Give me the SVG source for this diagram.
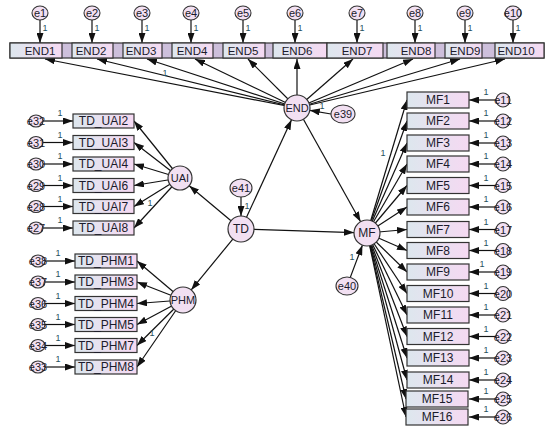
<svg xmlns="http://www.w3.org/2000/svg" width="550" height="433" viewBox="0 0 550 433">
<style>
.box{fill:url(#bg);stroke:#333;stroke-width:1.2}
.lv{fill:#f2e0f2;stroke:#333;stroke-width:1.2}
.er{fill:#f2e0f2;stroke:#333;stroke-width:1.1}
.t{font-family:"Liberation Sans",Arial,sans-serif;font-size:12px;fill:#1b1b2b;text-anchor:middle}
.te{font-family:"Liberation Sans",Arial,sans-serif;font-size:11.5px;fill:#1b1b2b;text-anchor:middle}
.ts{font-family:"Liberation Sans",Arial,sans-serif;font-size:11px;fill:#1b1b2b;text-anchor:middle}
.one{font-family:"Liberation Sans",Arial,sans-serif;font-size:9px;fill:#1f4f5f;text-anchor:middle}
#connectors line{stroke:#111;stroke-width:1.2;marker-end:url(#ah)}
</style>
<defs>
<linearGradient id="bg" x1="0" y1="0" x2="1" y2="0">
<stop offset="0" stop-color="#dde7ee"/>
<stop offset="1" stop-color="#f5d9f2"/>
</linearGradient>
<marker id="ah" markerWidth="10" markerHeight="7" refX="10" refY="3.5" orient="auto" markerUnits="userSpaceOnUse">
<path d="M0,0 L10,3.5 L0,7 z" fill="#111"/>
</marker>
</defs>
<rect width="550" height="433" fill="#fff"/>

<g id="connectors">
<!-- top error arrows -->
<line x1="40" y1="20" x2="40" y2="43"/>
<line x1="92" y1="20" x2="92" y2="43"/>
<line x1="142" y1="20" x2="142" y2="43"/>
<line x1="191" y1="20" x2="191" y2="43"/>
<line x1="243" y1="20" x2="243" y2="43"/>
<line x1="295" y1="20" x2="295" y2="43"/>
<line x1="357" y1="20" x2="357" y2="43"/>
<line x1="415" y1="20" x2="415" y2="43"/>
<line x1="465" y1="20" x2="465" y2="43"/>
<line x1="513" y1="20" x2="513" y2="43"/>
<!-- END to indicators -->
<line x1="297" y1="108" x2="45" y2="59"/>
<line x1="297" y1="108" x2="97" y2="59"/>
<line x1="297" y1="108" x2="147" y2="59"/>
<line x1="297" y1="108" x2="195" y2="59"/>
<line x1="297" y1="108" x2="248" y2="59"/>
<line x1="297" y1="108" x2="297" y2="59"/>
<line x1="297" y1="108" x2="353" y2="59"/>
<line x1="297" y1="108" x2="413" y2="59"/>
<line x1="297" y1="108" x2="460" y2="59"/>
<line x1="297" y1="108" x2="505" y2="59"/>
<!-- structural -->
<line x1="331" y1="114" x2="309.8" y2="110.3"/>
<line x1="241" y1="197" x2="241" y2="216"/>
<line x1="246.5" y1="217.2" x2="291.5" y2="119.8"/>
<line x1="303.4" y1="119.3" x2="360.6" y2="221.7"/>
<line x1="254" y1="229.4" x2="354" y2="232.6"/>
<line x1="350.4" y1="277.1" x2="362.4" y2="245.2"/>
<line x1="231" y1="220.7" x2="189.2" y2="185.7"/>
<line x1="232.8" y1="239.1" x2="191.2" y2="289.9"/>
<!-- UAI -->
<line x1="180" y1="178" x2="134" y2="121"/>
<line x1="180" y1="178" x2="134" y2="142.5"/>
<line x1="180" y1="178" x2="134" y2="164"/>
<line x1="180" y1="178" x2="134" y2="185.5"/>
<line x1="180" y1="178" x2="134" y2="206.5"/>
<line x1="180" y1="178" x2="134" y2="228"/>
<line x1="43" y1="121" x2="73" y2="121"/>
<line x1="43" y1="142.5" x2="73" y2="142.5"/>
<line x1="43" y1="164" x2="73" y2="164"/>
<line x1="43" y1="185.5" x2="73" y2="185.5"/>
<line x1="43" y1="206.5" x2="73" y2="206.5"/>
<line x1="43" y1="228" x2="73" y2="228"/>
<!-- PHM -->
<line x1="183" y1="300" x2="137" y2="261"/>
<line x1="183" y1="300" x2="137" y2="282"/>
<line x1="183" y1="300" x2="137" y2="303.5"/>
<line x1="183" y1="300" x2="137" y2="324.5"/>
<line x1="183" y1="300" x2="137" y2="345.5"/>
<line x1="183" y1="300" x2="137" y2="367"/>
<line x1="45" y1="261" x2="75" y2="261"/>
<line x1="45" y1="282" x2="75" y2="282"/>
<line x1="45" y1="303.5" x2="75" y2="303.5"/>
<line x1="45" y1="324.5" x2="75" y2="324.5"/>
<line x1="45" y1="345.5" x2="75" y2="345.5"/>
<line x1="45" y1="367" x2="75" y2="367"/>
<!-- MF -->
<line x1="367" y1="233" x2="407" y2="100"/>
<line x1="367" y1="233" x2="407" y2="121"/>
<line x1="367" y1="233" x2="407" y2="143"/>
<line x1="367" y1="233" x2="407" y2="164"/>
<line x1="367" y1="233" x2="407" y2="185.5"/>
<line x1="367" y1="233" x2="407" y2="207"/>
<line x1="367" y1="233" x2="407" y2="229.5"/>
<line x1="367" y1="233" x2="407" y2="250.5"/>
<line x1="367" y1="233" x2="407" y2="272"/>
<line x1="367" y1="233" x2="407" y2="293.5"/>
<line x1="367" y1="233" x2="407" y2="315"/>
<line x1="367" y1="233" x2="407" y2="336.5"/>
<line x1="367" y1="233" x2="407" y2="358"/>
<line x1="367" y1="233" x2="407" y2="380"/>
<line x1="367" y1="233" x2="406" y2="399"/>
<line x1="367" y1="233" x2="406" y2="417"/>
<line x1="496" y1="100" x2="469" y2="100"/>
<line x1="496" y1="121" x2="469" y2="121"/>
<line x1="496" y1="143" x2="469" y2="143"/>
<line x1="496" y1="164" x2="469" y2="164"/>
<line x1="496" y1="185.5" x2="469" y2="185.5"/>
<line x1="496" y1="207" x2="469" y2="207"/>
<line x1="496" y1="229.5" x2="469" y2="229.5"/>
<line x1="496" y1="250.5" x2="469" y2="250.5"/>
<line x1="496" y1="272" x2="469" y2="272"/>
<line x1="496" y1="293.5" x2="469" y2="293.5"/>
<line x1="496" y1="315" x2="469" y2="315"/>
<line x1="496" y1="336.5" x2="469" y2="336.5"/>
<line x1="496" y1="358" x2="469" y2="358"/>
<line x1="496" y1="380" x2="469" y2="380"/>
<line x1="496" y1="399" x2="469" y2="399"/>
<line x1="496" y1="417" x2="469" y2="417"/>
</g>

<g id="weights">
<text class="one" x="45" y="31">1</text>
<text class="one" x="97" y="31">1</text>
<text class="one" x="147" y="31">1</text>
<text class="one" x="196" y="31">1</text>
<text class="one" x="248" y="31">1</text>
<text class="one" x="300" y="31">1</text>
<text class="one" x="362" y="31">1</text>
<text class="one" x="420" y="31">1</text>
<text class="one" x="470" y="31">1</text>
<text class="one" x="518" y="31">1</text>
<text class="one" x="165" y="76">1</text>
<text class="one" x="322" y="109">1</text>
<text class="one" x="247" y="209">1</text>
<text class="one" x="352" y="260">1</text>
<text class="one" x="383" y="156">1</text>
<text class="one" x="150" y="206">1</text>
<text class="one" x="152" y="336">1</text>
<text class="one" x="60" y="116">1</text>
<text class="one" x="60" y="137.5">1</text>
<text class="one" x="60" y="159">1</text>
<text class="one" x="60" y="180.5">1</text>
<text class="one" x="60" y="201.5">1</text>
<text class="one" x="60" y="223">1</text>
<text class="one" x="58" y="256">1</text>
<text class="one" x="58" y="277">1</text>
<text class="one" x="58" y="298.5">1</text>
<text class="one" x="58" y="319.5">1</text>
<text class="one" x="58" y="340.5">1</text>
<text class="one" x="58" y="362">1</text>
<text class="one" x="486" y="95">1</text>
<text class="one" x="486" y="116">1</text>
<text class="one" x="486" y="138">1</text>
<text class="one" x="486" y="159">1</text>
<text class="one" x="486" y="180.5">1</text>
<text class="one" x="486" y="202">1</text>
<text class="one" x="486" y="224.5">1</text>
<text class="one" x="486" y="245.5">1</text>
<text class="one" x="482" y="267">1</text>
<text class="one" x="486" y="288.5">1</text>
<text class="one" x="486" y="310">1</text>
<text class="one" x="486" y="331.5">1</text>
<text class="one" x="486" y="353">1</text>
<text class="one" x="486" y="375">1</text>
<text class="one" x="486" y="394">1</text>
<text class="one" x="486" y="412">1</text>
</g>

<!-- top indicator row -->
<rect x="10" y="43" width="534" height="15" fill="#cdbfdb" stroke="#333" stroke-width="1.2"/>
<g id="END1"><rect class="box" x="10" y="43" width="52" height="15"/><text class="te" x="40" y="55">END1</text></g>
<g id="END2"><rect class="box" x="72" y="43" width="41" height="15"/><text class="te" x="91" y="55">END2</text></g>
<g id="END3"><rect class="box" x="123" y="43" width="39" height="15"/><text class="te" x="141" y="55">END3</text></g>
<g id="END4"><rect class="box" x="172" y="43" width="41" height="15"/><text class="te" x="192" y="55">END4</text></g>
<g id="END5"><rect class="box" x="223" y="43" width="42" height="15"/><text class="te" x="243" y="55">END5</text></g>
<g id="END6"><rect class="box" x="273" y="43" width="54" height="15"/><text class="te" x="297" y="55">END6</text></g>
<g id="END7"><rect class="box" x="327" y="43" width="56" height="15"/><text class="te" x="357" y="55">END7</text></g>
<g id="END8"><rect class="box" x="387" y="43" width="48" height="15"/><text class="te" x="416" y="55">END8</text></g>
<g id="END9"><rect class="box" x="445" y="43" width="37" height="15"/><text class="te" x="465" y="55">END9</text></g>
<g id="END10"><rect class="box" x="495" y="43" width="49" height="15"/><text class="te" x="516" y="55">END10</text></g>

<g id="e1"><ellipse class="er" cx="40" cy="13" rx="8" ry="7"/><text class="ts" x="40" y="17">e1</text></g>
<g id="e2"><ellipse class="er" cx="92" cy="13" rx="8" ry="7"/><text class="ts" x="92" y="17">e2</text></g>
<g id="e3"><ellipse class="er" cx="142" cy="13" rx="8" ry="7"/><text class="ts" x="142" y="17">e3</text></g>
<g id="e4"><ellipse class="er" cx="191" cy="13" rx="8" ry="7"/><text class="ts" x="191" y="17">e4</text></g>
<g id="e5"><ellipse class="er" cx="243" cy="13" rx="8" ry="7"/><text class="ts" x="243" y="17">e5</text></g>
<g id="e6"><ellipse class="er" cx="295" cy="13" rx="8" ry="7"/><text class="ts" x="295" y="17">e6</text></g>
<g id="e7"><ellipse class="er" cx="357" cy="13" rx="8" ry="7"/><text class="ts" x="357" y="17">e7</text></g>
<g id="e8"><ellipse class="er" cx="415" cy="13" rx="8" ry="7"/><text class="ts" x="415" y="17">e8</text></g>
<g id="e9"><ellipse class="er" cx="465" cy="13" rx="8" ry="7"/><text class="ts" x="465" y="17">e9</text></g>
<g id="e10"><ellipse class="er" cx="513" cy="13" rx="8" ry="7"/><text class="ts" x="513" y="17">e10</text></g>

<!-- latent -->
<g id="END"><circle class="lv" cx="297" cy="108" r="13"/><text class="ts" x="297" y="112">END</text></g>
<g id="e39"><ellipse class="er" cx="343" cy="114" rx="12" ry="9"/><text class="ts" x="343" y="118">e39</text></g>
<g id="TD"><circle class="lv" cx="241" cy="229" r="13"/><text class="t" x="241" y="233">TD</text></g>
<g id="e41"><ellipse class="er" cx="241" cy="188" rx="11" ry="9"/><text class="ts" x="241" y="192">e41</text></g>
<g id="MF"><circle class="lv" cx="367" cy="233" r="13"/><text class="t" x="367" y="237">MF</text></g>
<g id="e40"><ellipse class="er" cx="347" cy="286" rx="11" ry="9"/><text class="ts" x="347" y="290">e40</text></g>
<g id="UAI"><circle class="lv" cx="180" cy="178" r="12"/><text class="ts" x="180" y="182">UAI</text></g>
<g id="PHM"><circle class="lv" cx="183" cy="300" r="13"/><text class="ts" x="183" y="304">PHM</text></g>

<!-- UAI indicators -->
<g id="TD_UAI2"><rect class="box" x="73" y="114" width="61" height="14"/><text class="t" x="103.5" y="125">TD_UAI2</text></g>
<g id="TD_UAI3"><rect class="box" x="73" y="135.5" width="61" height="14"/><text class="t" x="103.5" y="146.5">TD_UAI3</text></g>
<g id="TD_UAI4"><rect class="box" x="73" y="157" width="61" height="14"/><text class="t" x="103.5" y="168">TD_UAI4</text></g>
<g id="TD_UAI6"><rect class="box" x="73" y="178.5" width="61" height="14"/><text class="t" x="103.5" y="189.5">TD_UAI6</text></g>
<g id="TD_UAI7"><rect class="box" x="73" y="199.5" width="61" height="14"/><text class="t" x="103.5" y="210.5">TD_UAI7</text></g>
<g id="TD_UAI8"><rect class="box" x="73" y="221" width="61" height="14"/><text class="t" x="103.5" y="232">TD_UAI8</text></g>
<g id="e32"><ellipse class="er" cx="36" cy="121" rx="7" ry="6"/><text class="ts" x="36" y="125">e32</text></g>
<g id="e31"><ellipse class="er" cx="36" cy="142.5" rx="7" ry="6"/><text class="ts" x="36" y="146.5">e31</text></g>
<g id="e30"><ellipse class="er" cx="36" cy="164" rx="7" ry="6"/><text class="ts" x="36" y="168">e30</text></g>
<g id="e29"><ellipse class="er" cx="36" cy="185.5" rx="7" ry="6"/><text class="ts" x="36" y="189.5">e29</text></g>
<g id="e28"><ellipse class="er" cx="36" cy="206.5" rx="7" ry="6"/><text class="ts" x="36" y="210.5">e28</text></g>
<g id="e27"><ellipse class="er" cx="36" cy="228" rx="7" ry="6"/><text class="ts" x="36" y="232">e27</text></g>

<!-- PHM indicators -->
<g id="TD_PHM1"><rect class="box" x="75" y="254" width="62" height="14"/><text class="t" x="106" y="265">TD_PHM1</text></g>
<g id="TD_PHM3"><rect class="box" x="75" y="275" width="62" height="14"/><text class="t" x="106" y="286">TD_PHM3</text></g>
<g id="TD_PHM4"><rect class="box" x="75" y="296.5" width="62" height="14"/><text class="t" x="106" y="307.5">TD_PHM4</text></g>
<g id="TD_PHM5"><rect class="box" x="75" y="317.5" width="62" height="14"/><text class="t" x="106" y="328.5">TD_PHM5</text></g>
<g id="TD_PHM7"><rect class="box" x="75" y="338.5" width="62" height="14"/><text class="t" x="106" y="349.5">TD_PHM7</text></g>
<g id="TD_PHM8"><rect class="box" x="75" y="360" width="62" height="14"/><text class="t" x="106" y="371">TD_PHM8</text></g>
<g id="e38"><ellipse class="er" cx="38" cy="261" rx="7" ry="6"/><text class="ts" x="38" y="265">e38</text></g>
<g id="e37"><ellipse class="er" cx="38" cy="282" rx="7" ry="6"/><text class="ts" x="38" y="286">e37</text></g>
<g id="e36"><ellipse class="er" cx="38" cy="303.5" rx="7" ry="6"/><text class="ts" x="38" y="307.5">e36</text></g>
<g id="e35"><ellipse class="er" cx="38" cy="324.5" rx="7" ry="6"/><text class="ts" x="38" y="328.5">e35</text></g>
<g id="e34"><ellipse class="er" cx="38" cy="345.5" rx="7" ry="6"/><text class="ts" x="38" y="349.5">e34</text></g>
<g id="e33"><ellipse class="er" cx="38" cy="367" rx="7" ry="6"/><text class="ts" x="38" y="371">e33</text></g>

<!-- MF indicators -->
<g id="MF1"><rect class="box" x="407" y="92" width="62" height="16"/><text class="t" x="438" y="104">MF1</text></g>
<g id="MF2"><rect class="box" x="407" y="113" width="62" height="16"/><text class="t" x="438" y="125">MF2</text></g>
<g id="MF3"><rect class="box" x="407" y="135" width="62" height="16"/><text class="t" x="438" y="147">MF3</text></g>
<g id="MF4"><rect class="box" x="407" y="156" width="62" height="16"/><text class="t" x="438" y="168">MF4</text></g>
<g id="MF5"><rect class="box" x="407" y="177.5" width="62" height="16"/><text class="t" x="438" y="189.5">MF5</text></g>
<g id="MF6"><rect class="box" x="407" y="199" width="62" height="16"/><text class="t" x="438" y="211">MF6</text></g>
<g id="MF7"><rect class="box" x="407" y="221.5" width="62" height="16"/><text class="t" x="438" y="233.5">MF7</text></g>
<g id="MF8"><rect class="box" x="407" y="242.5" width="62" height="16"/><text class="t" x="438" y="254.5">MF8</text></g>
<g id="MF9"><rect class="box" x="407" y="264" width="62" height="16"/><text class="t" x="438" y="276">MF9</text></g>
<g id="MF10"><rect class="box" x="407" y="285.5" width="62" height="16"/><text class="t" x="438" y="297.5">MF10</text></g>
<g id="MF11"><rect class="box" x="407" y="307" width="62" height="16"/><text class="t" x="438" y="319">MF11</text></g>
<g id="MF12"><rect class="box" x="407" y="328.5" width="62" height="16"/><text class="t" x="438" y="340.5">MF12</text></g>
<g id="MF13"><rect class="box" x="407" y="350" width="62" height="16"/><text class="t" x="438" y="362">MF13</text></g>
<g id="MF14"><rect class="box" x="407" y="372" width="62" height="16"/><text class="t" x="438" y="384">MF14</text></g>
<g id="MF15"><rect class="box" x="406" y="391" width="62" height="16"/><text class="t" x="437" y="403">MF15</text></g>
<g id="MF16"><rect class="box" x="406" y="409" width="62" height="16"/><text class="t" x="437" y="421">MF16</text></g>
<g id="e11"><ellipse class="er" cx="503" cy="100" rx="7" ry="7"/><text class="ts" x="503" y="104">e11</text></g>
<g id="e12"><ellipse class="er" cx="503" cy="121" rx="7" ry="7"/><text class="ts" x="503" y="125">e12</text></g>
<g id="e13"><ellipse class="er" cx="503" cy="143" rx="7" ry="7"/><text class="ts" x="503" y="147">e13</text></g>
<g id="e14"><ellipse class="er" cx="503" cy="164" rx="7" ry="7"/><text class="ts" x="503" y="168">e14</text></g>
<g id="e15"><ellipse class="er" cx="503" cy="185.5" rx="7" ry="7"/><text class="ts" x="503" y="189.5">e15</text></g>
<g id="e16"><ellipse class="er" cx="503" cy="207" rx="7" ry="7"/><text class="ts" x="503" y="211">e16</text></g>
<g id="e17"><ellipse class="er" cx="503" cy="229.5" rx="7" ry="7"/><text class="ts" x="503" y="233.5">e17</text></g>
<g id="e18"><ellipse class="er" cx="503" cy="250.5" rx="7" ry="7"/><text class="ts" x="503" y="254.5">e18</text></g>
<g id="e19"><ellipse class="er" cx="503" cy="272" rx="7" ry="7"/><text class="ts" x="503" y="276">e19</text></g>
<g id="e20"><ellipse class="er" cx="503" cy="293.5" rx="7" ry="7"/><text class="ts" x="503" y="297.5">e20</text></g>
<g id="e21"><ellipse class="er" cx="503" cy="315" rx="7" ry="7"/><text class="ts" x="503" y="319">e21</text></g>
<g id="e22"><ellipse class="er" cx="503" cy="336.5" rx="7" ry="7"/><text class="ts" x="503" y="340.5">e22</text></g>
<g id="e23"><ellipse class="er" cx="503" cy="358" rx="7" ry="7"/><text class="ts" x="503" y="362">e23</text></g>
<g id="e24"><ellipse class="er" cx="503" cy="380" rx="7" ry="7"/><text class="ts" x="503" y="384">e24</text></g>
<g id="e25"><ellipse class="er" cx="503" cy="399" rx="7" ry="7"/><text class="ts" x="503" y="403">e25</text></g>
<g id="e26"><ellipse class="er" cx="503" cy="417" rx="7" ry="7"/><text class="ts" x="503" y="421">e26</text></g>
</svg>
